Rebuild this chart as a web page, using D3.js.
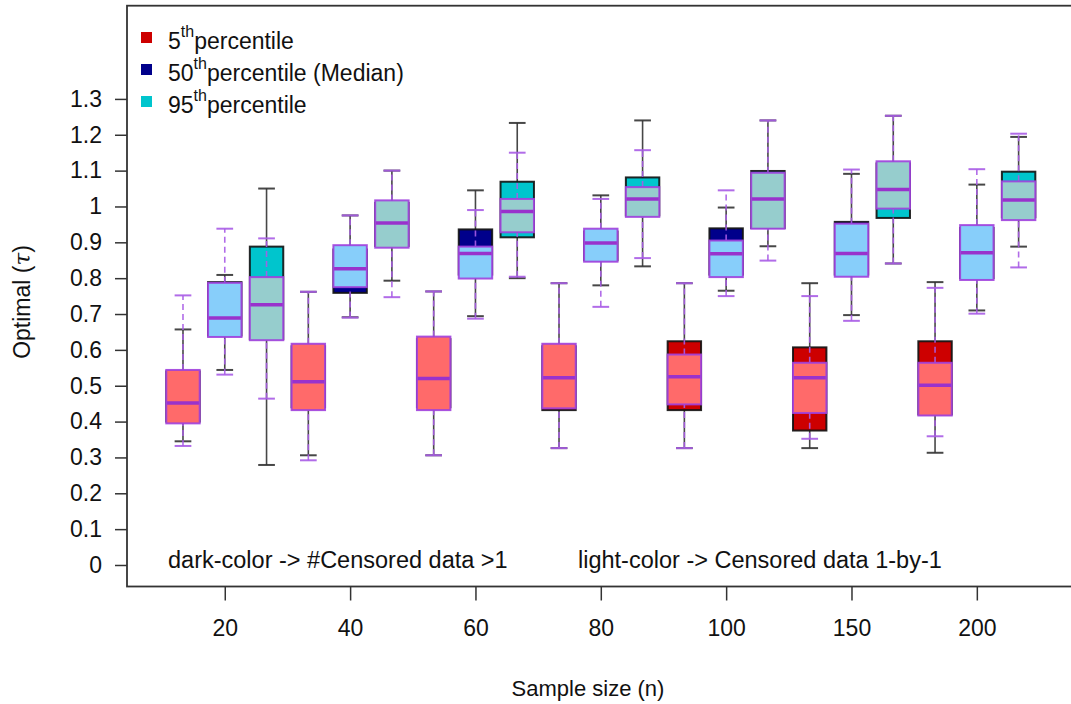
<!DOCTYPE html>
<html><head><meta charset="utf-8">
<script src="https://cdn.jsdelivr.net/npm/d3@7"></script>
<style>body{margin:0;background:#fff}svg{display:block;font-family:"Liberation Sans",Arial,sans-serif}</style>
</head><body><svg id="c" width="1071" height="704"></svg>
<script>
// ---- data: [lower whisker, Q1, median, Q3, upper whisker] per sample size
const sampleSizes = ["20","40","60","80","100","150","200"];
// light colour: censored data 1-by-1
const lightP5  = [[0.332,0.395,0.452,0.544,0.752],[0.292,0.432,0.511,0.617,0.762],[0.306,0.432,0.520,0.637,0.763],[0.326,0.437,0.522,0.617,0.786],[0.326,0.448,0.525,0.587,0.786],[0.352,0.424,0.522,0.564,0.750],[0.359,0.417,0.501,0.564,0.773]];
const lightP50 = [[0.531,0.636,0.689,0.787,0.938],[0.690,0.775,0.826,0.892,0.975],[0.687,0.799,0.869,0.888,0.990],[0.720,0.846,0.898,0.938,1.021],[0.750,0.803,0.868,0.905,1.045],[0.681,0.804,0.869,0.952,1.103],[0.701,0.795,0.871,0.948,1.104]];
const lightP95 = [[0.464,0.627,0.726,0.803,0.911],[0.747,0.885,0.954,1.017,1.100],[0.804,0.928,0.986,1.021,1.150],[0.856,0.971,1.021,1.054,1.157],[0.849,0.938,1.021,1.094,1.240],[0.841,0.994,1.047,1.126,1.253],[0.830,0.962,1.018,1.070,1.203]];
// dark colour: #censored data > 1
const darkP5  = [[0.345,0.400,0.450,0.540,0.657],[0.306,0.440,0.510,0.610,0.762],[0.306,0.440,0.520,0.630,0.763],[0.326,0.432,0.520,0.610,0.786],[0.326,0.432,0.520,0.624,0.786],[0.326,0.375,0.520,0.607,0.786],[0.313,0.420,0.500,0.624,0.789]];
const darkP50 = [[0.544,0.640,0.690,0.789,0.809],[0.691,0.759,0.820,0.880,0.975],[0.694,0.810,0.870,0.936,1.045],[0.780,0.850,0.900,0.930,1.031],[0.765,0.810,0.870,0.939,0.997],[0.697,0.810,0.870,0.957,1.091],[0.710,0.800,0.870,0.940,1.061]];
const darkP95 = [[0.279,0.630,0.730,0.888,1.050],[0.793,0.890,0.950,1.010,1.100],[0.800,0.914,0.980,1.069,1.233],[0.833,0.975,1.020,1.081,1.240],[0.889,0.940,1.020,1.099,1.240],[0.841,0.968,1.040,1.120,1.253],[0.888,0.970,1.020,1.097,1.194]];
const yTicks = [0,0.1,0.2,0.3,0.4,0.5,0.6,0.7,0.8,0.9,1,1.1,1.2,1.3];
const legendSup = ["th","th","th"];
const legendNum = ["5","50","95"];
const legendText = ["percentile","percentile (Median)","percentile"];
const darkFill = ["#CD0000","#00008B","#00C5CD"];
const lightFill = ["#FF6A6A","#87CEFA","#96CDCD"];

const svg = d3.select("#c");
const x = d3.scaleLinear().domain([-0.34, 22.34]).range([127, 1074.6]);
const y = d3.scaleLinear().domain([-0.06, 1.56]).range([586.5, 5.7]);
const boxW = x(0.8) - x(0), stapleW = boxW/2;
const FONT = "Liberation Sans, Arial, sans-serif";

function drawSet(series, fills, border, whiskCol, medCol, alphaB, dash) {
  series.forEach((ser, s) => {
    ser.forEach((st, g) => {
      const p = 3*g + s + 1, cx = x(p);
      const gr = svg.append("g");
      gr.append("rect").attr("x", cx-boxW/2).attr("width", boxW)
        .attr("y", y(st[3])).attr("height", y(st[1]) - y(st[3])).attr("fill", fills[s]);
      gr.append("line").attr("x1", cx-boxW/2).attr("x2", cx+boxW/2).attr("y1", y(st[2])).attr("y2", y(st[2]))
        .attr("stroke", medCol).attr("stroke-width", 3.5);
      [[st[0],st[1]],[st[3],st[4]]].forEach(([a,b]) => {
        gr.append("line").attr("x1", cx).attr("x2", cx).attr("y1", y(a)).attr("y2", y(b))
          .attr("stroke", whiskCol).attr("stroke-width", 1.6).attr("stroke-dasharray", dash).attr("stroke-opacity", alphaB);
      });
      [st[0], st[4]].forEach(v => {
        gr.append("line").attr("x1", cx-stapleW/2).attr("x2", cx+stapleW/2).attr("y1", y(v)).attr("y2", y(v))
          .attr("stroke", whiskCol).attr("stroke-width", 2).attr("stroke-opacity", alphaB);
      });
      gr.append("rect").attr("x", cx-boxW/2).attr("width", boxW)
        .attr("y", y(st[3])).attr("height", y(st[1]) - y(st[3])).attr("fill", "none")
        .attr("stroke", border).attr("stroke-width", 2).attr("stroke-opacity", alphaB);
    });
  });
}
drawSet([darkP5, darkP50, darkP95], darkFill, "#111", "#333", "#111", 0.9, null);
drawSet([lightP5, lightP50, lightP95], lightFill, "#A040DD", "#A85CE6", "#9932CC", 0.9, "6,4");

// frame
svg.append("rect").attr("x", x(-0.34)).attr("y", y(1.56)).attr("width", x(22.34)-x(-0.34)).attr("height", y(-0.06)-y(1.56))
  .attr("fill","none").attr("stroke","#333").attr("stroke-width",1.8);

// y axis
const ya = svg.append("g").attr("transform", `translate(${x(-0.34)},0)`)
  .call(d3.axisLeft(y).tickValues(yTicks).tickFormat(d3.format("~g")).tickSize(12).tickPadding(13));
ya.select(".domain").remove();
ya.selectAll("line").attr("stroke","#333").attr("stroke-width",1.5);
ya.selectAll("text").attr("font-size",23).attr("fill","#111").attr("font-family",FONT);

// x axis
const xa = svg.append("g").attr("transform", `translate(0,${y(-0.06)})`)
  .call(d3.axisBottom(x).tickValues(sampleSizes.map((d,i)=>3*i+2)).tickFormat((d,i)=>sampleSizes[i]).tickSize(14).tickPadding(19));
xa.select(".domain").remove();
xa.selectAll("line").attr("stroke","#333").attr("stroke-width",1.5);
xa.selectAll("text").attr("font-size",23).attr("fill","#111").attr("font-family",FONT);

// axis titles
svg.append("text").attr("x", 588).attr("y", 696).attr("text-anchor","middle").attr("font-size",22).attr("fill","#111").text("Sample size (n)");
const yl = svg.append("text").attr("transform","translate(30,302) rotate(-90)").attr("text-anchor","middle").attr("font-size",23).attr("fill","#111");
yl.append("tspan").text("Optimal (");
yl.append("tspan").attr("font-family","DejaVu Serif, serif").attr("font-style","italic").text("τ");
yl.append("tspan").text(")");

// annotations
svg.append("text").attr("x",168).attr("y",568).attr("font-size",23.5).attr("fill","#111").text("dark-color -> #Censored data >1");
svg.append("text").attr("x",578).attr("y",568).attr("font-size",23.5).attr("fill","#111").text("light-color -> Censored data 1-by-1");

// legend
legendNum.forEach((n,i) => {
  const ly = 38 + i*32;
  svg.append("rect").attr("x",141).attr("y",ly-6).attr("width",11).attr("height",11).attr("fill",darkFill[i]);
  const t = svg.append("text").attr("x",168).attr("y",ly+11).attr("font-size",23).attr("fill","#111");
  t.append("tspan").text(n);
  t.append("tspan").attr("font-size",16).attr("dy",-12).text(legendSup[i]);
  t.append("tspan").attr("dy",12).text(legendText[i]);
});
</script></body></html>
